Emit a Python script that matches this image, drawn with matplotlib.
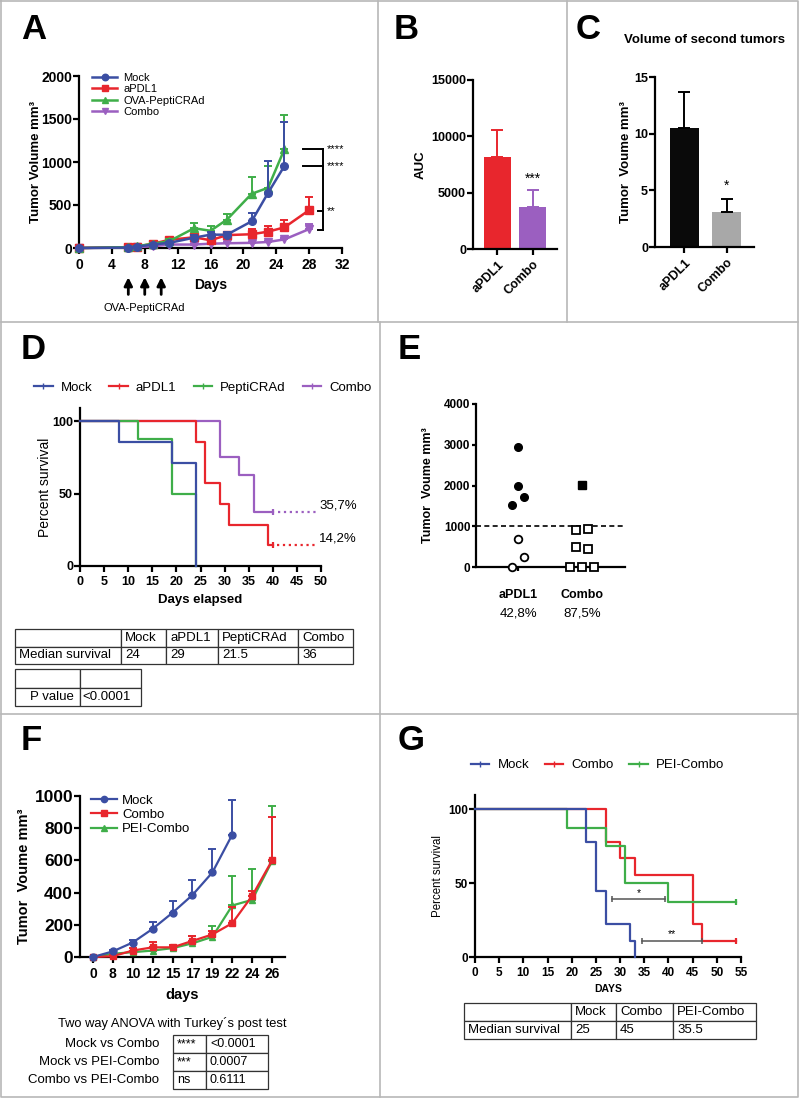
import numpy as np
import matplotlib
matplotlib.use("Agg")
import matplotlib.pyplot as plt
from matplotlib.transforms import blended_transform_factory

plt.rcParams['font.family'] = ['Liberation Sans', 'DejaVu Sans']

BLUE = '#3b4ea3'
RED = '#e8262d'
GREEN = '#3fae49'
PURPLE = '#9b5fc0'

# ---------------- data ----------------
# A: tumor growth (mean, upper SEM)
a_days_mock = [0, 6, 7, 9, 11, 14, 16, 18, 21, 23, 25]
a_mock = [0, 5, 15, 40, 60, 120, 155, 155, 310, 640, 955]
a_mock_err = [0, 5, 8, 12, 15, 30, 30, 30, 95, 370, 515]
a_days_apdl1 = [0, 6, 7, 9, 11, 14, 16, 18, 21, 23, 25, 28]
a_apdl1 = [0, 10, 15, 50, 95, 125, 90, 150, 160, 190, 240, 440]
a_apdl1_err = [0, 5, 8, 12, 20, 30, 40, 30, 60, 70, 80, 150]
a_days_ova = [0, 6, 7, 9, 11, 14, 16, 18, 21, 23, 25]
a_ova = [0, 10, 20, 50, 80, 230, 200, 330, 630, 700, 1150]
a_ova_err = [0, 5, 8, 12, 20, 60, 60, 70, 190, 250, 400]
a_days_combo = [0, 6, 7, 9, 11, 14, 16, 18, 21, 23, 25, 28]
a_combo = [0, 5, 10, 20, 40, 40, 50, 55, 60, 70, 100, 220]
a_combo_err = [0, 3, 5, 5, 8, 10, 10, 10, 10, 15, 20, 60]
a_injection_days = [6, 8, 10]

# B: AUC
b_groups = ['aPDL1', 'Combo']
b_auc = [8200, 3700]
b_auc_err = [2350, 1500]

# C: second tumors
c_groups = ['aPDL1', 'Combo']
c_vol = [10.5, 3.1]
c_vol_err = [3.2, 1.1]

# D: survival
d_mock_t = [0, 8, 19, 24]
d_mock_s = [100, 85.7, 71.4, 0]
d_pepti_t = [0, 12, 19, 24]
d_pepti_s = [100, 87.5, 50, 0]
d_apdl1_t = [0, 24, 26, 29, 31, 39, 40]
d_apdl1_s = [100, 85.7, 57.1, 42.9, 28.6, 14.3, 14.3]
d_combo_t = [0, 29, 33, 36, 40]
d_combo_s = [100, 75, 62.5, 37.5, 37.5]
d_table_head = ['', 'Mock', 'aPDL1', 'PeptiCRAd', 'Combo']
d_table_row = ['Median survival', '24', '29', '21.5', '36']
d_pvalue = ['P value', '<0.0001']

# E: individual tumors
e_groups = ['aPDL1', 'Combo']
e_pct = ['42,8%', '87,5%']
e_apdl1_big = [2950, 2000, 1730, 1520]
e_apdl1_small = [690, 250, 0]
e_combo_big = [2020]
e_combo_small = [920, 930, 500, 440, 0, 0, 0]

# F: tumor growth second experiment
f_days = ['0', '8', '10', '12', '15', '17', '19', '22', '24', '26']
f_mock = [0, 35, 90, 175, 275, 385, 525, 760]
f_mock_err = [0, 8, 15, 45, 75, 95, 145, 215]
f_combo = [0, 5, 40, 60, 60, 100, 140, 210, 380, 600]
f_combo_err = [0, 5, 15, 35, 15, 30, 20, 100, 30, 270]
f_pei = [0, 20, 30, 40, 55, 85, 125, 320, 355, 595]
f_pei_err = [0, 5, 10, 20, 20, 45, 70, 185, 190, 345]
f_comparisons = ['Mock vs Combo', 'Mock vs PEI-Combo', 'Combo vs PEI-Combo']
f_stars = ['****', '***', 'ns']
f_pvals = ['<0.0001', '0.0007', '0.6111']

# G: survival second experiment
g_mock_t = [0, 23, 25, 27, 32, 33]
g_mock_s = [100, 77.8, 44.4, 22.2, 11.1, 0]
g_combo_t = [0, 27, 30, 33, 45, 47, 54]
g_combo_s = [100, 77.8, 66.7, 55.6, 22.2, 11.1, 11.1]
g_pei_t = [0, 19, 27, 31, 40, 54]
g_pei_s = [100, 87.5, 75, 50, 37.5, 37.5]
g_table_head = ['', 'Mock', 'Combo', 'PEI-Combo']
g_table_row = ['Median survival', '25', '45', '35.5']


# ---------------- helpers ----------------
W, H = 800, 1100
fig = plt.figure(figsize=(8, 11), dpi=100)


def px_axes(l, t, r, b, **kw):
    return fig.add_axes([l / W, 1 - b / H, (r - l) / W, (b - t) / H], **kw)


def prism(ax, lw=1.6, length=4):
    for s in ['top', 'right']:
        ax.spines[s].set_visible(False)
    for s in ['left', 'bottom']:
        ax.spines[s].set_linewidth(lw)
    ax.tick_params(direction='out', width=lw, length=length)
    ax.tick_params(axis='y', pad=1)
    ax.tick_params(axis='x', pad=3)


def set_ticks(ax, axis, vals, labels=None, fs=9, **kw):
    labels = [str(v) for v in vals] if labels is None else labels
    if axis == 'x':
        ax.set_xticks(vals, labels=labels, fontsize=fs, fontweight='bold', **kw)
    else:
        ax.set_yticks(vals, labels=labels, fontsize=fs, fontweight='bold', **kw)


def ylab(ax, text, xfrac, fs=9, weight='bold'):
    ax.set_ylabel(text, fontsize=fs, fontweight=weight)
    ax.yaxis.set_label_coords(xfrac, 0.5)


def xlab(ax, text, yfrac, fs=9):
    ax.set_xlabel(text, fontsize=fs, fontweight='bold', va='top')
    ax.xaxis.set_label_coords(0.5, yfrac)


def table(box, rows, widths, fs=9.5, locs=None, pads=None):
    l, t, r, b = box
    ax = px_axes(l, t, r, b)
    ax.axis('off')
    tab = ax.table(cellText=rows, colWidths=[w / sum(widths) for w in widths],
                   cellLoc='left', bbox=[0, 0, 1, 1])
    tab.auto_set_font_size(False)
    tab.set_fontsize(fs)
    for (ri, ci), cell in tab.get_celld().items():
        cell.set_edgecolor('#333333')
        cell.set_linewidth(0.9)
        pad = 4 if pads is None else pads[ci]
        cell.PAD = pad / widths[ci]
        if locs is not None:
            cell._loc = locs[ci]
            cell.get_text().set_ha(locs[ci])
    return ax


def upper_err(ax, x, y, err, color, lw=1.4, cap=3, z=2):
    ax.errorbar(x, y, yerr=[np.zeros(len(err)), err], fmt='none', ecolor=color,
                elinewidth=lw, capsize=cap, capthick=lw, clip_on=False, zorder=z)


# background with panel borders and letters
bg = fig.add_axes([0, 0, 1, 1], zorder=-10)
bg.set_xlim(0, W)
bg.set_ylim(H, 0)
bg.axis('off')
bc = '#b8b8b8'
bg.plot([1, 798, 798, 1, 1], [1, 1, 1097, 1097, 1], color=bc, lw=1.2)
bg.plot([1, 798], [322, 322], color=bc, lw=1.2)
bg.plot([1, 798], [714, 714], color=bc, lw=1.2)
bg.plot([378, 378], [1, 322], color=bc, lw=1.2)
bg.plot([567, 567], [1, 322], color=bc, lw=1.2)
bg.plot([380, 380], [322, 714], color=bc, lw=1.2)
bg.plot([380, 380], [714, 1097], color=bc, lw=1.2)
for letter, x, y in [('A', 21, 39), ('B', 394, 39), ('C', 576, 39), ('D', 21, 359),
                     ('E', 398, 359), ('F', 21, 750), ('G', 398, 750)]:
    bg.text(x, y, letter, fontsize=25, fontweight='bold', va='baseline', ha='left')

# ---------------- A ----------------
ax = px_axes(79, 76, 342, 248)
prism(ax)
series = [
    (a_days_combo, a_combo, a_combo_err, PURPLE, 'v', 'Combo'),
    (a_days_apdl1, a_apdl1, a_apdl1_err, RED, 's', 'aPDL1'),
    (a_days_ova, a_ova, a_ova_err, GREEN, '^', 'OVA-PeptiCRAd'),
    (a_days_mock, a_mock, a_mock_err, BLUE, 'o', 'Mock'),
]
handles = {}
for i, (x, y, e, c, m, lab) in enumerate(series):
    upper_err(ax, x, y, e, c, z=2 + i)
    handles[lab], = ax.plot(x, y, color=c, marker=m, ms=5.5, lw=1.8, label=lab,
                            clip_on=False, zorder=3 + i)
ax.set_xlim(0, 32)
ax.set_ylim(0, 2000)
set_ticks(ax, 'x', list(range(0, 33, 4)), fs=10)
set_ticks(ax, 'y', [0, 500, 1000, 1500, 2000], fs=10)
ylab(ax, 'Tumor Volume mm³', -0.14, fs=9.5)
xlab(ax, 'Days', -0.175, fs=10)
ax.legend([handles[k] for k in ['Mock', 'aPDL1', 'OVA-PeptiCRAd', 'Combo']],
          ['Mock', 'aPDL1', 'OVA-PeptiCRAd', 'Combo'], loc='upper left',
          bbox_to_anchor=(0.03, 1.05), frameon=False, fontsize=8, handlelength=2.2,
          labelspacing=0.12, borderpad=0, handletextpad=0.6, markerscale=0.85)
tr = blended_transform_factory(ax.transData, ax.transAxes)
for d in a_injection_days:
    ax.annotate('', xy=(d, -0.17), xytext=(d, -0.27), xycoords=tr, textcoords=tr,
                arrowprops=dict(arrowstyle='-|>', color='k', lw=2, mutation_scale=12,
                                shrinkA=0, shrinkB=0))
ax.text(np.mean(a_injection_days), -0.35, 'OVA-PeptiCRAd', transform=tr, ha='center',
        va='center', fontsize=8)
# significance bracket
kw = dict(color='k', lw=1.4, clip_on=False)
top1, top2 = a_ova[-1], a_mock[-1]
mid, bot = 430, 209
ax.plot([27.3, 29.7], [top1, top1], **kw)
ax.plot([27.3, 29.7], [top2, top2], **kw)
ax.plot([29.7, 29.7], [top1, bot], **kw)
ax.plot([29.1, 29.7], [bot, bot], **kw)
ax.plot([29.1, 29.7], [mid, mid], **kw)
for yv, s in [(top1, '****'), (top2, '****'), (mid, '**')]:
    ax.text(30.2, yv, s, fontsize=8, va='center', ha='left', clip_on=False)

# ---------------- B ----------------
ax = px_axes(473, 80, 557, 249)
prism(ax)
xb = np.arange(len(b_groups))
ax.bar(xb, b_auc, width=0.76, color=[RED, PURPLE])
for i in range(len(xb)):
    upper_err(ax, [xb[i]], [b_auc[i]], [b_auc_err[i]], [RED, PURPLE][i], lw=1.4, cap=4)
ax.set_xlim(-0.69, 1.68)
ax.set_ylim(0, 15000)
set_ticks(ax, 'y', [0, 5000, 10000, 15000], fs=9)
set_ticks(ax, 'x', list(xb), b_groups, fs=9, rotation=45, ha='right',
          rotation_mode='anchor')
ylab(ax, 'AUC', -0.55, fs=9.5)
ax.text(1, b_auc[1] + b_auc_err[1] + 400, '***', ha='center', va='bottom', fontsize=10)

# ---------------- C ----------------
ax = px_axes(655, 77, 754, 247)
prism(ax)
xc = np.arange(len(c_groups))
ax.bar(xc, c_vol, width=0.69, color=['#0a0a0a', '#a8a8a8'])
upper_err(ax, xc, c_vol, c_vol_err, 'k', lw=1.4, cap=4)
ax.set_xlim(-0.70, 1.65)
ax.set_ylim(0, 15)
set_ticks(ax, 'y', [0, 5, 10, 15], fs=9)
set_ticks(ax, 'x', list(xc), c_groups, fs=9, rotation=45, ha='right',
          rotation_mode='anchor')
ylab(ax, 'Tumor  Voume mm³', -0.23, fs=9.5)
ax.text(1, c_vol[1] + c_vol_err[1] + 0.6, '*', ha='center', va='bottom', fontsize=10)
ax.text(0.5, (247 - 40) / 170, 'Volume of second tumors', transform=ax.transAxes,
        ha='center', va='center', fontsize=9.5, fontweight='bold')

# ---------------- D ----------------
ax = px_axes(80, 408, 321, 566)
prism(ax)
curves = [(d_mock_t, d_mock_s, BLUE, 'Mock'), (d_apdl1_t, d_apdl1_s, RED, 'aPDL1'),
          (d_pepti_t, d_pepti_s, GREEN, 'PeptiCRAd'), (d_combo_t, d_combo_s, PURPLE, 'Combo')]
hd = []
for z, (t, s, c, lab) in zip([5, 3, 4, 2], curves):
    ax.step(t, s, where='post', color=c, lw=1.6, clip_on=False, zorder=z)
    hd.append(plt.Line2D([], [], color=c, lw=1.6, marker='|', ms=4, label=lab))
ax.plot(d_apdl1_t[-1], d_apdl1_s[-1], marker='|', ms=5, color=RED, mew=1.6)
ax.plot(d_combo_t[-1], d_combo_s[-1], marker='|', ms=5, color=PURPLE, mew=1.6)
ax.plot([41, 49.3], [d_combo_s[-1]] * 2, ls=':', color=PURPLE, lw=1.6, clip_on=False)
ax.plot([40.8, 49.3], [d_apdl1_s[-1]] * 2, ls=':', color=RED, lw=1.6, clip_on=False)
ax.text(49.6, d_combo_s[-1] + 4.5, '35,7%', fontsize=9.5, va='center', clip_on=False)
ax.text(49.6, d_apdl1_s[-1] + 5, '14,2%', fontsize=9.5, va='center', clip_on=False)
ax.set_xlim(0, 50)
ax.set_ylim(0, 109)
set_ticks(ax, 'x', list(range(0, 51, 5)), fs=9)
set_ticks(ax, 'y', [0, 50, 100], fs=9)
ylab(ax, 'Percent survival', -0.115, fs=10, weight='normal')
xlab(ax, 'Days elapsed', -0.18, fs=9.5)
ax.legend(handles=hd, loc='center left', bbox_to_anchor=(-0.19, 1.127), ncol=4,
          frameon=False, fontsize=9.5, handlelength=1.4, handletextpad=0.6,
          columnspacing=1.3, borderpad=0, borderaxespad=0)

table((15, 629, 353, 664), [d_table_head, d_table_row], [106, 45, 52, 80, 55], fs=9.5)
table((15, 669, 141, 706), [['', ''], d_pvalue], [65, 61], fs=9.5,
      locs=['right', 'left'], pads=[6, 2])

# ---------------- E ----------------
ax = px_axes(476, 404, 625, 567)
prism(ax, length=3)
step = 0.094
ax.plot(0 + step * np.array([0, 0, 1, -1]), e_apdl1_big, 'o', color='k', ms=5.5,
        clip_on=False)
ax.plot(0 + step * np.array([0, 1, -1]), e_apdl1_small, 'o', mfc='white', mec='k',
        mew=1.3, ms=5.5, clip_on=False, zorder=4)
ax.plot(1 + step * np.array([0]), e_combo_big, 's', color='k', ms=5.5, clip_on=False)
ax.plot(1 + step * np.array([-1, 1, -1, 1, -2, 0, 2]), e_combo_small, 's', mfc='white',
        mec='k', mew=1.3, ms=5.5, clip_on=False, zorder=4)
ax.axhline(1000, ls=(0, (3, 2)), color='k', lw=1.2)
ax.set_xlim(-0.66, 1.67)
ax.set_ylim(0, 4000)
set_ticks(ax, 'y', [0, 1000, 2000, 3000, 4000], fs=8.5)
set_ticks(ax, 'x', [0, 1], e_groups, fs=9)
ax.tick_params(axis='x', pad=13)
ylab(ax, 'Tumor  Voume mm³', -0.28, fs=9)
trE = blended_transform_factory(ax.transData, ax.transAxes)
for i, p in enumerate(e_pct):
    ax.text(i, -0.285, p, transform=trE, ha='center', va='center', fontsize=9.5)

# ---------------- F ----------------
ax = px_axes(80, 796, 285, 957)
prism(ax)
xf = np.arange(len(f_days))
fser = [(xf[:len(f_pei)], f_pei, f_pei_err, GREEN, '^', 'PEI-Combo'),
        (xf[:len(f_combo)], f_combo, f_combo_err, RED, 's', 'Combo'),
        (xf[:len(f_mock)], f_mock, f_mock_err, BLUE, 'o', 'Mock')]
hf = {}
for i, (x, y, e, c, m, lab) in enumerate(fser):
    upper_err(ax, x, y, e, c, z=2 + i)
    hf[lab], = ax.plot(x, y, color=c, marker=m, ms=5, lw=1.6, clip_on=False, zorder=3 + i)
ax.set_xlim(-0.65, 9.65)
ax.set_ylim(0, 1000)
set_ticks(ax, 'x', list(xf), f_days, fs=10)
set_ticks(ax, 'y', [0, 200, 400, 600, 800, 1000], fs=12.5)
ylab(ax, 'Tumor  Voume mm³', -0.24, fs=10.5)
xlab(ax, 'days', -0.19, fs=10.5)
ax.legend([hf[k] for k in ['Mock', 'Combo', 'PEI-Combo']], ['Mock', 'Combo', 'PEI-Combo'],
          loc='upper left', bbox_to_anchor=(0.02, 1.05), frameon=False, fontsize=9.5,
          handlelength=2.0, labelspacing=0.15, borderpad=0, handletextpad=0.4,
          markerscale=0.9)

tf = table((173, 1035, 268, 1089), [[s, p] for s, p in zip(f_stars, f_pvals)], [33, 62],
           fs=9)
for i, lab in enumerate(f_comparisons):
    tf.text((159 - 173) / 95, 1 - (i + 0.5) / 3, lab, transform=tf.transAxes,
            ha='right', va='center', fontsize=9.5)
bg.text(172, 1023, 'Two way ANOVA with Turkey´s post test', ha='center', va='center',
        fontsize=9.3)

# ---------------- G ----------------
ax = px_axes(475, 795, 741, 957)
prism(ax)
gcurves = [(g_mock_t, g_mock_s, BLUE, 'Mock'), (g_combo_t, g_combo_s, RED, 'Combo'),
           (g_pei_t, g_pei_s, GREEN, 'PEI-Combo')]
hg = []
for z, (t, s, c, lab) in zip([4, 2, 3], gcurves):
    ax.step(t, s, where='post', color=c, lw=1.6, clip_on=False, zorder=z)
    hg.append(plt.Line2D([], [], color=c, lw=1.6, marker='|', ms=4, label=lab))
ax.plot(g_combo_t[-1], g_combo_s[-1], marker='|', ms=5, color=RED, mew=1.6, clip_on=False)
ax.plot(g_pei_t[-1], g_pei_s[-1], marker='|', ms=5, color=GREEN, mew=1.6, clip_on=False)
for x0, x1, yv, s in [(28.3, 39.3, 39, '*'), (34.5, 47, 11, '**')]:
    ax.plot([x0, x1], [yv, yv], color='#555555', lw=1.1, marker='|', ms=5, mew=1.1)
    ax.text((x0 + x1) / 2, yv + 1, s, ha='center', va='bottom', fontsize=7.5)
ax.set_xlim(0, 55)
ax.set_ylim(0, 109.5)
set_ticks(ax, 'x', list(range(0, 56, 5)), fs=8.5)
set_ticks(ax, 'y', [0, 50, 100], fs=8.5)
ylab(ax, 'Percent survival', -0.115, fs=8.3, weight='normal')
xlab(ax, 'DAYS', -0.165, fs=7.5)
ax.legend(handles=hg, loc='center left', bbox_to_anchor=(-0.015, 1.185), ncol=3,
          frameon=False, fontsize=9.5, handlelength=1.4, handletextpad=0.6,
          columnspacing=1.2, borderpad=0, borderaxespad=0)

table((464, 1003, 756, 1039), [g_table_head, g_table_row], [107, 45, 57, 83], fs=9.5)

fig.savefig('out.png', dpi=100)
